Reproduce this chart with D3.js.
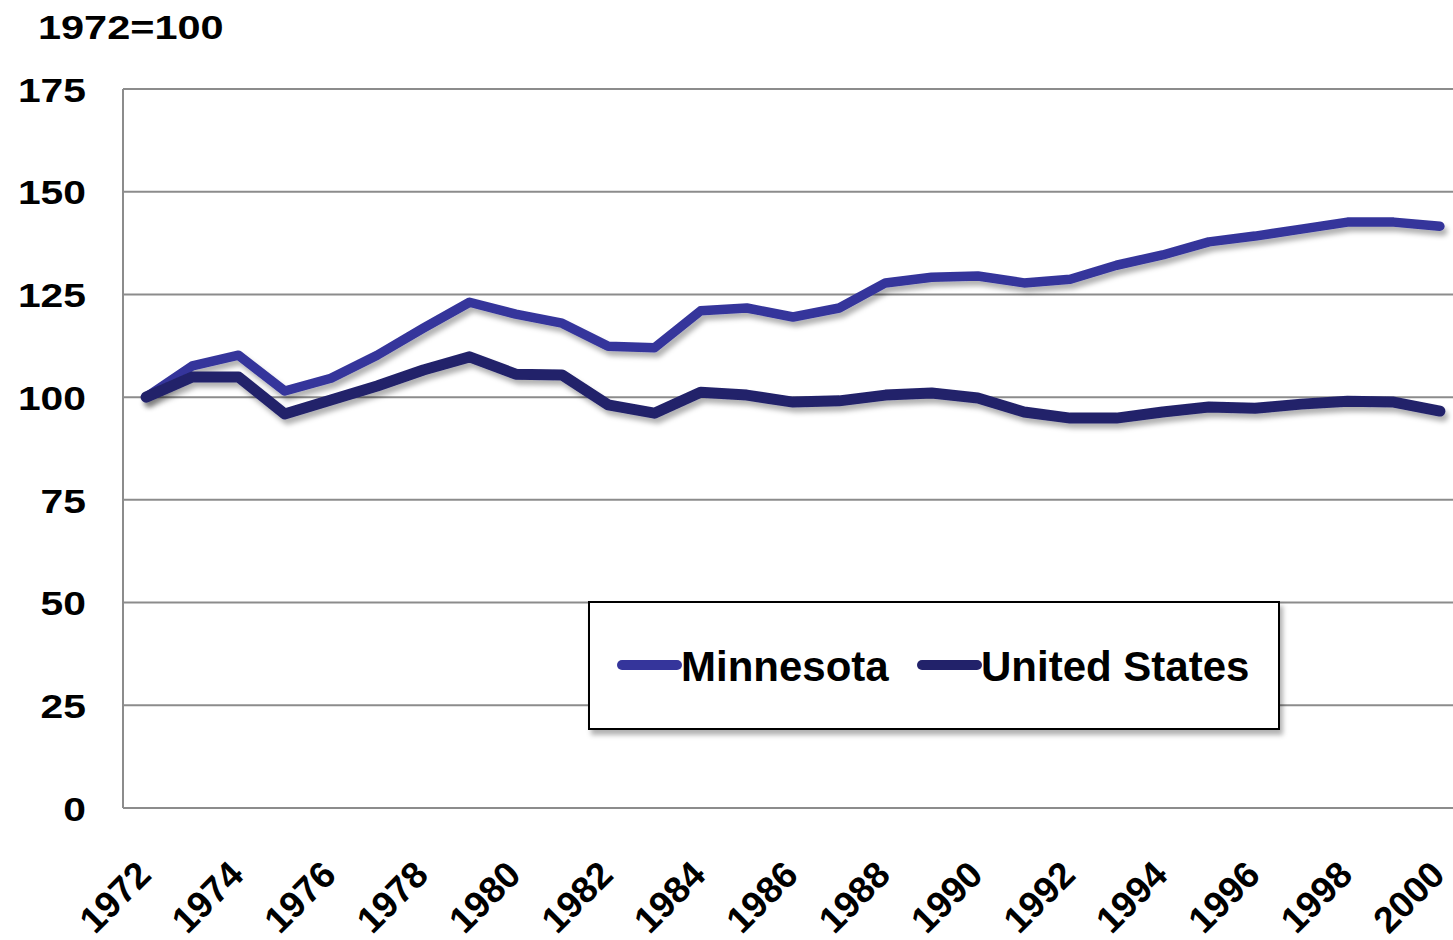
<!DOCTYPE html>
<html>
<head>
<meta charset="utf-8">
<script src="https://cdn.jsdelivr.net/npm/d3@7"></script>
<style>
  body { margin: 0; background: #fff; }
  text { font-family: "Liberation Sans", Arial, sans-serif; font-weight: bold; fill: #000; }
</style>
</head>
<body>
<div id="chart"></div>
<script>
// Data
var years = d3.range(1972, 2001);
var minnesota = [100, 107.6, 110.2, 101.5, 104.6, 110.2, 116.8, 123.1, 120.2, 118.0,
                 112.4, 112.0, 121.0, 121.7, 119.5, 121.7, 127.8, 129.2, 129.5, 127.8,
                 128.7, 132.1, 134.6, 137.8, 139.2, 140.9, 142.6, 142.6, 141.6];
var unitedStates = [100, 104.9, 104.9, 95.9, 99.3, 102.7, 106.6, 109.8, 105.6, 105.4,
                    98.1, 96.1, 101.2, 100.5, 98.8, 99.1, 100.5, 101.0, 99.8, 96.4,
                    94.9, 94.9, 96.4, 97.6, 97.3, 98.3, 99.0, 98.8, 96.6];
var yTicks = [0, 25, 50, 75, 100, 125, 150, 175];
var seriesNames = ["Minnesota", "United States"];
var seriesColors = ["#35359b", "#22226a"];

// Chart size
var properties = { width: 1453, height: 940, margin: { top: 89, right: -10, bottom: 132, left: 123 } };
var chartDimensions = {
    width: properties.width - properties.margin.left - properties.margin.right,
    height: properties.height - properties.margin.top - properties.margin.bottom
};

var svg = d3.select("#chart").append("svg")
    .attr("width", properties.width)
    .attr("height", properties.height);

// Drop shadow for the lines and legend
var defs = svg.append("defs");
defs.append("filter").attr("id", "shadow").attr("x", "-10%").attr("y", "-20%").attr("width", "120%").attr("height", "160%")
    .append("feDropShadow").attr("dx", 3).attr("dy", 5).attr("stdDeviation", 2.5)
    .attr("flood-color", "#000").attr("flood-opacity", 0.3);

var chartContent = svg.append("g")
    .attr("transform", "translate(" + properties.margin.left + "," + properties.margin.top + ")");

var x = d3.scaleBand().domain(years).range([0, chartDimensions.width]);
var xPos = function (yr) { return x(yr) + x.bandwidth() / 2; };
var y = d3.scaleLinear().domain([0, 175]).range([chartDimensions.height, 0]);

// Gridlines
chartContent.append("g")
    .selectAll("line").data(yTicks).enter().append("line")
    .attr("x1", 0).attr("x2", chartDimensions.width)
    .attr("y1", function (d) { return y(d); }).attr("y2", function (d) { return y(d); })
    .attr("stroke", "#8c8c8c").attr("stroke-width", 2);

// Left axis line
chartContent.append("line")
    .attr("x1", 0).attr("x2", 0).attr("y1", 0).attr("y2", chartDimensions.height)
    .attr("stroke", "#8c8c8c").attr("stroke-width", 2);

// Y axis labels
var yAxis = chartContent.append("g")
    .call(d3.axisLeft(y).tickValues(yTicks).tickSize(0).tickPadding(0));
yAxis.select(".domain").remove();
yAxis.selectAll("text")
    .attr("x", 0).attr("dy", "0.36em")
    .attr("transform", "translate(-37,0) scale(1.2,1)")
    .style("font-size", "34px").style("font-family", "'Liberation Sans', Arial, sans-serif").style("font-weight", "bold");

// X axis labels (every second year)
var xAxis = chartContent.append("g")
    .attr("transform", "translate(0," + chartDimensions.height + ")")
    .call(d3.axisBottom(x).tickValues(years.filter(function (d) { return (d - 1972) % 2 === 0; })).tickSize(0));
xAxis.select(".domain").remove();
xAxis.selectAll("text")
    .attr("y", 0).attr("dy", 0)
    .attr("text-anchor", "end")
    .attr("transform", "translate(7,69) rotate(-45)")
    .style("font-size", "37px").style("font-family", "'Liberation Sans', Arial, sans-serif").style("font-weight", "bold");

// Title
svg.append("text")
    .attr("x", 38).attr("y", 39)
    .attr("transform", "translate(38,0) scale(1.22,1) translate(-38,0)")
    .style("font-size", "34px")
    .text("1972=100");

// Lines
var line = d3.line()
    .x(function (d, i) { return xPos(years[i]); })
    .y(function (d) { return y(d); });

[minnesota, unitedStates].forEach(function (series, i) {
    chartContent.append("path")
        .datum(series)
        .attr("d", line)
        .attr("fill", "none")
        .attr("stroke", seriesColors[i])
        .attr("stroke-width", i === 0 ? 9.5 : 11)
        .attr("stroke-linejoin", "round")
        .attr("stroke-linecap", "round")
        .attr("filter", "url(#shadow)");
});

// Legend
var legend = svg.append("g").attr("transform", "translate(589,602)");
legend.append("rect")
    .attr("width", 690).attr("height", 127)
    .attr("fill", "#fff").attr("stroke", "#000").attr("stroke-width", 2)
    .attr("filter", "url(#shadow)");
var legendX = [33, 333];
seriesNames.forEach(function (name, i) {
    var g = legend.append("g").attr("transform", "translate(" + legendX[i] + ",63)");
    g.append("line")
        .attr("x1", 0).attr("x2", 55).attr("y1", 0).attr("y2", 0)
        .attr("stroke", seriesColors[i]).attr("stroke-width", 10).attr("stroke-linecap", "round");
    g.append("text")
        .attr("x", 59).attr("y", 16)
        .style("font-size", "42px")
        .text(name);
});
</script>
</body>
</html>
